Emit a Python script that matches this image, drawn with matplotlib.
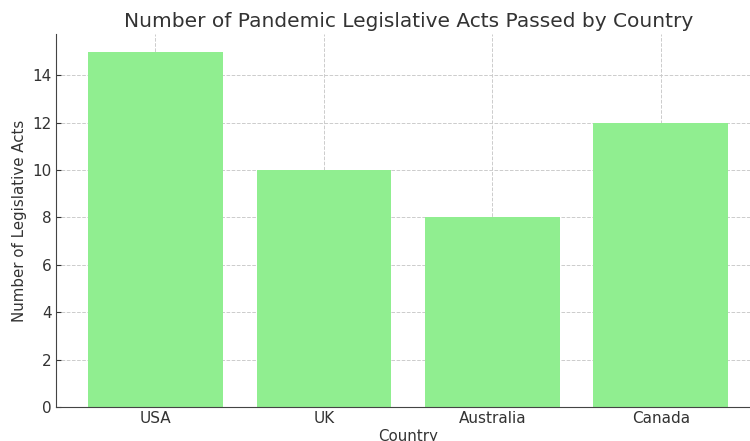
import matplotlib
matplotlib.use("Agg")
import matplotlib.pyplot as plt

countries = ["USA", "UK", "Australia", "Canada"]
acts = [15, 10, 8, 12]

plt.rcParams['text.color'] = '#333333'
plt.rcParams['axes.labelcolor'] = '#333333'
plt.rcParams['xtick.color'] = '#333333'
plt.rcParams['ytick.color'] = '#333333'

fig = plt.figure(figsize=(7.5, 4.41), dpi=100)
ax = fig.add_axes([0.0747, 0.0771, 0.939, 0.846])
ax.bar(countries, acts, color='lightgreen', width=0.8, zorder=2)
ax.set_title('Number of Pandemic Legislative Acts Passed by Country', fontsize=14.5, pad=5)
ax.set_xlabel('Country', fontsize=10.8, labelpad=2)
ax.set_ylabel('Number of Legislative Acts', fontsize=10.8, labelpad=4)
ax.grid(True, linestyle='--', color='#cccccc', linewidth=0.7, zorder=0)
ax.tick_params(direction='in', labelsize=11, pad=3)
ax.spines['top'].set_visible(False)
ax.spines['right'].set_visible(False)
ax.spines['left'].set_color('#444444')
ax.spines['bottom'].set_color('#444444')

fig.savefig('out.png', dpi=100)
